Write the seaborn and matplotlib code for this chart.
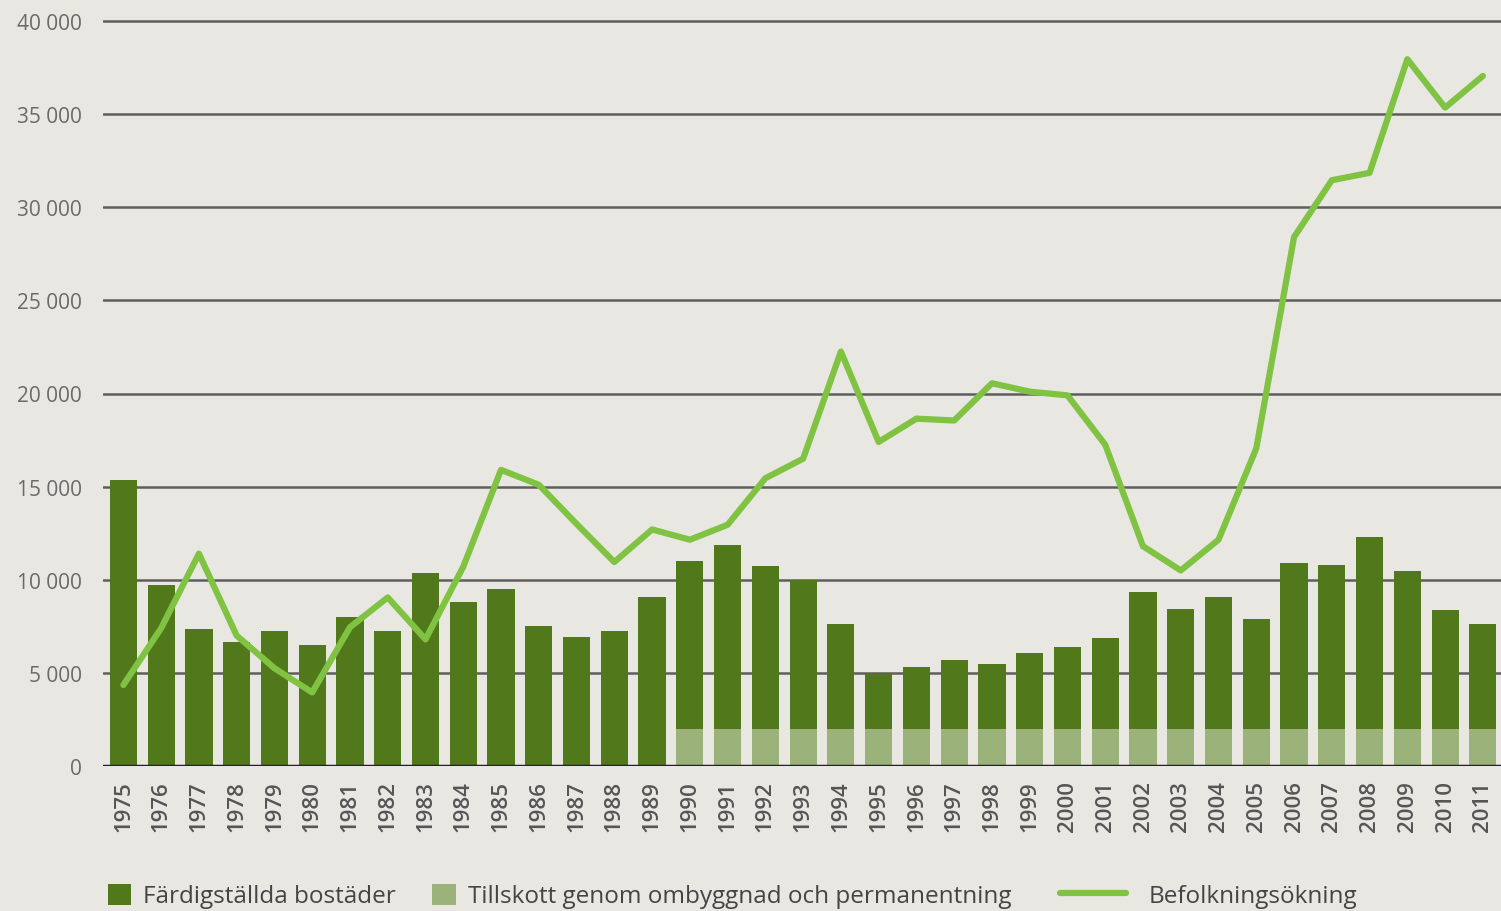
import matplotlib
matplotlib.use("Agg")
import matplotlib.pyplot as plt
from matplotlib.patches import Patch
from matplotlib.lines import Line2D
import seaborn as sns
import numpy as np
import pandas as pd

# Data
years = [str(y) for y in range(1975, 2012)]
completed = [15350, 9700, 7350, 6650, 7250, 6500, 8000, 7250, 10350, 8800,
             9500, 7500, 6950, 7250, 9100,
             9000, 9850, 8750, 8000, 5600, 2950, 3300, 3700, 3500, 4050,
             4400, 4850, 7350, 6450, 7100, 5900, 8900, 8800, 10300, 8450,
             6400, 5650]
conversion = [0] * 15 + [2000] * 22
population = [4350, 7400, 11400, 7000, 5250, 3950, 7450, 9050, 6800, 10700,
              15900, 15100, 13000, 10950, 12700, 12150, 12950, 15450, 16500,
              22250, 17400, 18650, 18550, 20550, 20100, 19900, 17250, 11800,
              10500, 12150, 17050, 28400, 31450, 31850, 37950, 35350, 37050]

labels = ["Färdigställda bostäder", "Tillskott genom ombyggnad och permanentning",
          "Befolkningsökning"]

bg = "#e9e7e2"
dark = "#52781c"
light = "#9bb27a"
line_col = "#80c342"

df = pd.DataFrame({"year": years, "completed": completed,
                   "conversion": conversion, "population": population})
df["total"] = df["completed"] + df["conversion"]

sns.set_theme(style="white")
plt.rcParams["font.family"] = ["Open Sans", "DejaVu Sans"]

fig = plt.figure(figsize=(15.01, 9.12), dpi=100, facecolor=bg)
ax_h = 745 * 40500 / 40000
ax = fig.add_axes([103 / 1501, 145 / 912, 1 - 103 / 1501, ax_h / 912])
ax.set_facecolor(bg)

sns.barplot(data=df, x="year", y="total", color=dark, saturation=1,
            width=0.72, linewidth=0, ax=ax, zorder=2)
sns.barplot(data=df, x="year", y="conversion", color=light, saturation=1,
            width=0.72, linewidth=0, ax=ax, zorder=2)
sns.lineplot(x=np.arange(len(years)), y=df["population"], color=line_col,
             linewidth=4.5, ax=ax, zorder=3, legend=False)

ax.set_xlim(-0.54, 36.48)
ax.set_ylim(0, 40500)
yt = list(range(0, 40001, 5000))
ax.set_yticks(yt)
ax.set_yticklabels([f"{v:,}".replace(",", " ") for v in yt],
                   fontsize=15, color="#6a6a6a")
ax.set_xticks(range(len(years)))
ax.set_xticklabels(years, rotation=90, fontsize=16, color="#555555",
                   fontweight="semibold")
ax.tick_params(axis="y", length=0, pad=15)
ax.tick_params(axis="x", length=0, pad=10)
ax.set_xlabel("")
ax.set_ylabel("")

for v in yt[1:]:
    ax.axhline(v, color="#5e5e5e", linewidth=1.8, zorder=1)
ax.axhline(0, color="#222222", linewidth=2.5, zorder=4)
for s in ax.spines.values():
    s.set_visible(False)

# Legend
bar_handles = [Patch(facecolor=dark, edgecolor="none"),
               Patch(facecolor=light, edgecolor="none")]
fig.legend(bar_handles, labels[:2], loc="center left",
           bbox_to_anchor=(108 / 1501, 15 / 912), ncol=2, frameon=False,
           fontsize=17.5, handlelength=0.95, handleheight=0.95,
           handletextpad=0.5, columnspacing=1.5, borderpad=0,
           borderaxespad=0, labelcolor="#444444")
fig.legend([Line2D([], [], color=line_col, linewidth=4.5)], labels[2:],
           loc="center left", bbox_to_anchor=(1060 / 1501, 15 / 912),
           frameon=False, fontsize=17.5, handlelength=2.7,
           handletextpad=0.95, borderpad=0, borderaxespad=0,
           labelcolor="#444444")

fig.savefig("out.png", dpi=100, facecolor=bg)
